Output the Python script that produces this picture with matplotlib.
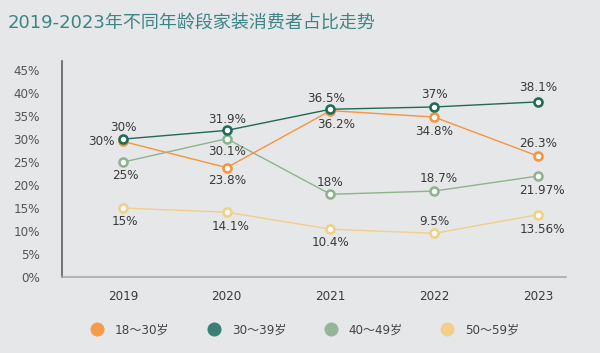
import matplotlib

matplotlib.use("Agg")

import matplotlib.pyplot as plt
from matplotlib.lines import Line2D

plt.rcParams["font.family"] = ["DejaVu Sans", "Noto Sans CJK SC"]

BG_COLOR = "#e6e7e9"
TEXT_COLOR = "#3a3a3a"
TICK_COLOR = "#555555"

years = ["2019", "2020", "2021", "2022", "2023"]
series_names = ["18～30岁", "30～39岁", "40～49岁", "50～59岁"]
age_18_30 = [29.5, 23.8, 36.2, 34.8, 26.3]
age_30_39 = [30.0, 31.9, 36.5, 37.0, 38.1]
age_40_49 = [25.0, 30.1, 18.0, 18.7, 21.97]
age_50_59 = [15.0, 14.1, 10.4, 9.5, 13.56]
labels_18_30 = ["30%", "23.8%", "36.2%", "34.8%", "26.3%"]
labels_30_39 = ["30%", "31.9%", "36.5%", "37%", "38.1%"]
labels_40_49 = ["25%", "30.1%", "18%", "18.7%", "21.97%"]
labels_50_59 = ["15%", "14.1%", "10.4%", "9.5%", "13.56%"]
y_ticks = [0, 5, 10, 15, 20, 25, 30, 35, 40, 45]

colors = ["#f7943f", "#1f6b57", "#8fb38f", "#f2cf85"]
legend_colors = ["#f99a48", "#3a7e74", "#96b597", "#f2cf8a"]

# label offsets (px) relative to each point
offsets = [
    [(-22, 0), (0, -13), (6, -14), (0, -14), (0, 13)],
    [(0, 12), (0, 11), (-4, 11), (0, 12), (0, 14)],
    [(2, -13), (0, -13), (0, 12), (4, 13), (4, -14)],
    [(2, -13), (4, -14), (0, -13), (0, 12), (4, -15)],
]

series = [age_18_30, age_30_39, age_40_49, age_50_59]
labels = [labels_18_30, labels_30_39, labels_40_49, labels_50_59]
draw_order = [3, 2, 0, 1]

fig = plt.figure(figsize=(600 / 72, 353 / 72), dpi=72, facecolor=BG_COLOR)
ax = fig.add_axes([62 / 600, 1 - 277 / 353, 504 / 600, 216 / 353])
ax.set_facecolor(BG_COLOR)

x = list(range(len(years)))
for idx in draw_order:
    ax.plot(
        x, series[idx], color=colors[idx], linewidth=1.4, marker="o", markersize=8,
        markerfacecolor="white", markeredgecolor=colors[idx], markeredgewidth=2.6, zorder=3 + idx % 2,
    )
    for xi, (val, lab, off) in enumerate(zip(series[idx], labels[idx], offsets[idx])):
        ax.annotate(lab, (xi, val), xytext=off, textcoords="offset points",
                    ha="center", va="center", fontsize=12, color=TEXT_COLOR, zorder=6)

ax.set_xlim(-0.588, 4.27)
ax.set_ylim(0, 47.0)
ax.set_yticks(y_ticks)
ax.set_yticklabels([f"{t}%" for t in y_ticks])
ax.set_xticks(x)
ax.set_xticklabels(years)
ax.tick_params(axis="y", length=0, pad=22, labelsize=12, labelcolor=TICK_COLOR)
ax.tick_params(axis="x", length=0, pad=13, labelsize=12, labelcolor=TEXT_COLOR)

for side in ["top", "right"]:
    ax.spines[side].set_visible(False)
ax.spines["left"].set_color("#5a5a5a")
ax.spines["left"].set_linewidth(1.6)
ax.spines["bottom"].set_color("#a8a8a8")
ax.spines["bottom"].set_linewidth(1.6)

fig.text(8 / 600, 1 - 23 / 353, "2019-2023年不同年龄段家装消费者占比走势", fontsize=18,
         color="#3d8585", ha="left", va="center", family=["DejaVu Sans", "Noto Sans CJK SC"])

handles = [Line2D([0], [0], marker="o", linestyle="none", markersize=13, markerfacecolor=c,
                  markeredgecolor=c, label=n) for c, n in zip(legend_colors, series_names)]
fig.legend(handles=handles, loc="center", bbox_to_anchor=(302 / 600, 1 - 330 / 353), ncol=4,
           frameon=False, fontsize=12, labelcolor="#444444", handletextpad=0.5, columnspacing=2.7,
           prop={"family": ["DejaVu Sans", "Noto Sans CJK SC"], "size": 12})

fig.savefig("out.png", dpi=72, facecolor=BG_COLOR)
